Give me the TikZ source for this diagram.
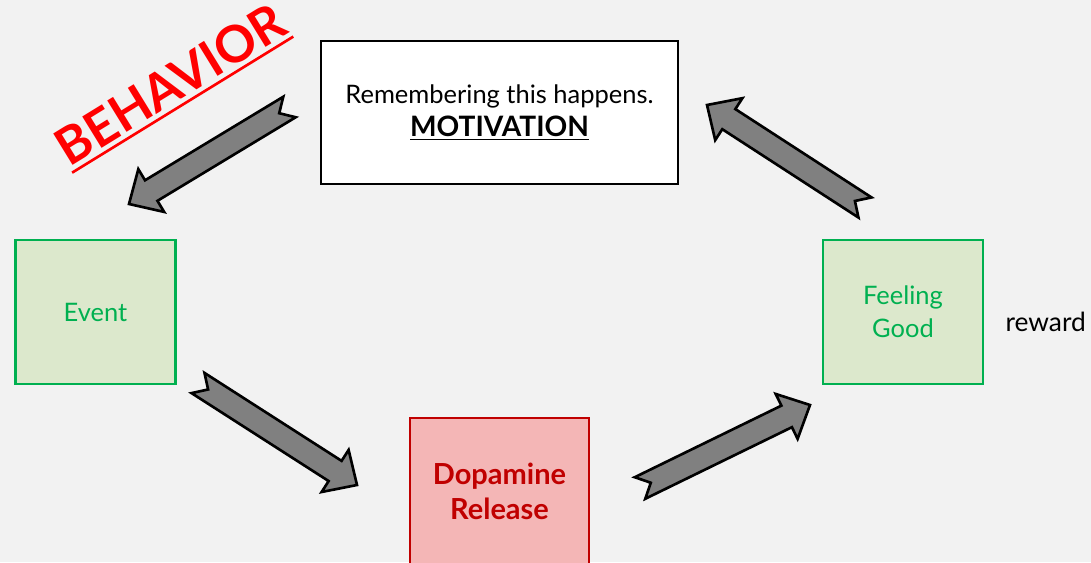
\documentclass[tikz,border=0pt]{standalone}
\usepackage{fontspec}
\setmainfont{Lato}
\usetikzlibrary{positioning, calc}
\definecolor{pagegray}{HTML}{F2F2F2}
\definecolor{leafgreen}{HTML}{00B050}
\definecolor{leaffill}{HTML}{DCE8CC}
\definecolor{darkred}{HTML}{C00000}
\definecolor{pinkfill}{HTML}{F4B6B6}
\definecolor{arrowgray}{HTML}{808080}
\tikzstyle{memory} = [rectangle, draw, fill=white, line width=1.5pt, text centered, minimum width=7.14cm, minimum height=2.86cm, font=\fontsize{14.5}{19}\selectfont]
\tikzstyle{stage} = [rectangle, draw=leafgreen, fill=leaffill, text=leafgreen, line width=1.5pt, text centered, minimum width=3.2cm, minimum height=2.88cm, font=\fontsize{14.5}{19}\selectfont]
\tikzstyle{release} = [rectangle, draw=darkred, fill=pinkfill, text=darkred, line width=1.5pt, text centered, minimum width=3.58cm, minimum height=2.92cm, font=\bfseries\fontsize{16.5}{20}\selectfont]
\tikzstyle{blockarrow} = [draw, fill=arrowgray, line width=1.5pt]
\newcommand{\bigarrow}[2]{%
  \coordinate (hb) at ($(#2)!0.52cm!(#1)$);
  \draw[blockarrow] ($(#1)!0.24cm!90:(#2)$) -- ($(#1)!0.24cm!(#2)$) -- ($(#1)!0.24cm!-90:(#2)$)
    -- ($(hb)!0.24cm!-90:(#2)$) -- ($(hb)!0.5cm!-90:(#2)$) -- (#2)
    -- ($(hb)!0.5cm!90:(#2)$) -- ($(hb)!0.24cm!90:(#2)$) -- cycle;}

\begin{document}
\begin{tikzpicture}[x=0.02cm, y=0.02cm, node distance=0.3cm, align=center]
    \fill[pagegray] (0,0) rectangle (1091,562);
    \useasboundingbox (0,0) rectangle (1091,562);

    \node[memory] (motivation) at (499.5,449.5) {Remembering this happens.\\{\fontsize{16}{19}\selectfont\textbf{\underline{MOTIVATION}}}};
    \node[stage] (event) at (95.5,250) {Event};
    \node[stage] (feeling) at (903,250) {Feeling\\Good};
    \node[release] (dopamine) at (499.5,71) {Dopamine\\Release};
    \node[right=of feeling, yshift=-0.2cm, font=\fontsize{15}{19}\selectfont] (reward) {reward};

    \node[rotate=31.6, text=red, font=\bfseries\fontsize{29}{30}\selectfont, inner xsep=0pt, inner ysep=3pt, text depth=0pt] (behavior) at (170,478) {BEHAVIOR};
    \draw[red, line width=1.5pt] (behavior.south west) -- (behavior.south east);

    \coordinate (memtail) at (289.5,455);
    \coordinate (eventtip) at (129,358);
    \coordinate (eventtail) at (198,179);
    \coordinate (dopatip) at (357,77);
    \coordinate (dopatail) at (640,74);
    \coordinate (feeltip) at (810,157);
    \coordinate (feeltail) at (865,354.5);
    \coordinate (memtip) at (707,457);

    \bigarrow{memtail}{eventtip}
    \bigarrow{eventtail}{dopatip}
    \bigarrow{dopatail}{feeltip}
    \bigarrow{feeltail}{memtip}
\end{tikzpicture}
\end{document}
